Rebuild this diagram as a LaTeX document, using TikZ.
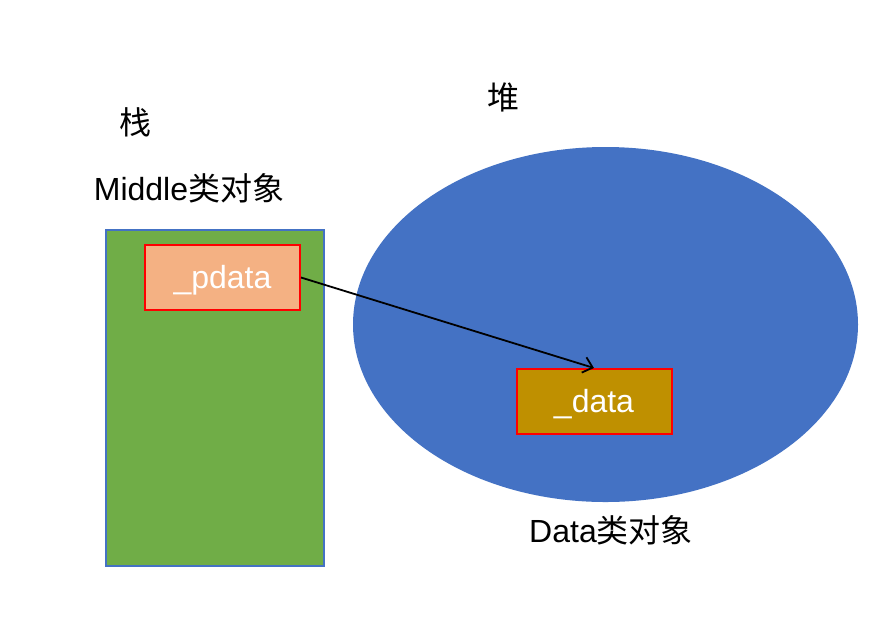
\documentclass[tikz,border=0pt]{standalone}
\usepackage{fontspec}
\setmainfont{Liberation Sans}
\newfontfamily\cjk{Noto Sans CJK SC}
\usetikzlibrary{arrows.meta,shapes.geometric}
\definecolor{stackgreen}{HTML}{70AD47}
\definecolor{heapblue}{HTML}{4472C4}
\definecolor{salmon}{HTML}{F4B183}
\definecolor{gold}{HTML}{BF9000}
\tikzset{
  membox/.style={draw=red, line width=2pt, minimum width=155pt, minimum height=65pt, inner sep=0pt, text=white, text height=24pt, text depth=2pt, font=\fontsize{32}{38}\selectfont},
  lbl/.style={font=\fontsize{32}{38}\selectfont, inner sep=0pt},
}
\begin{document}
\begin{tikzpicture}[x=1pt,y=-1pt]
\useasboundingbox (0,0) rectangle (869,622);
\fill[white] (0,0) rectangle (869,622);
\draw[draw=heapblue, fill=stackgreen, line width=1.3pt] (106,230) rectangle (324,566);
\node[draw=none, fill=heapblue, ellipse, minimum width=505pt, minimum height=355pt, inner sep=0pt] (heap) at (605.5,324.5) {};
\node[membox, fill=salmon] (pdata) at (222.5,277.5) {\_pdata};
\node[membox, fill=gold] (data) at (594,401.5) {\_data};
\draw[line width=1.8pt, -{Straight Barb[length=9pt,width=16pt]}] (pdata.east) -- (data.north);
\node[lbl] (stack) at (135,122) {\cjk 栈};
\node[lbl] (heaplbl) at (503,97) {\cjk 堆};
\node[lbl] (midlbl) at (189,188) {Middle{\cjk 类对象}};
\node[lbl] (datalbl) at (611,530) {Data{\cjk 类对象}};
\end{tikzpicture}
\end{document}
